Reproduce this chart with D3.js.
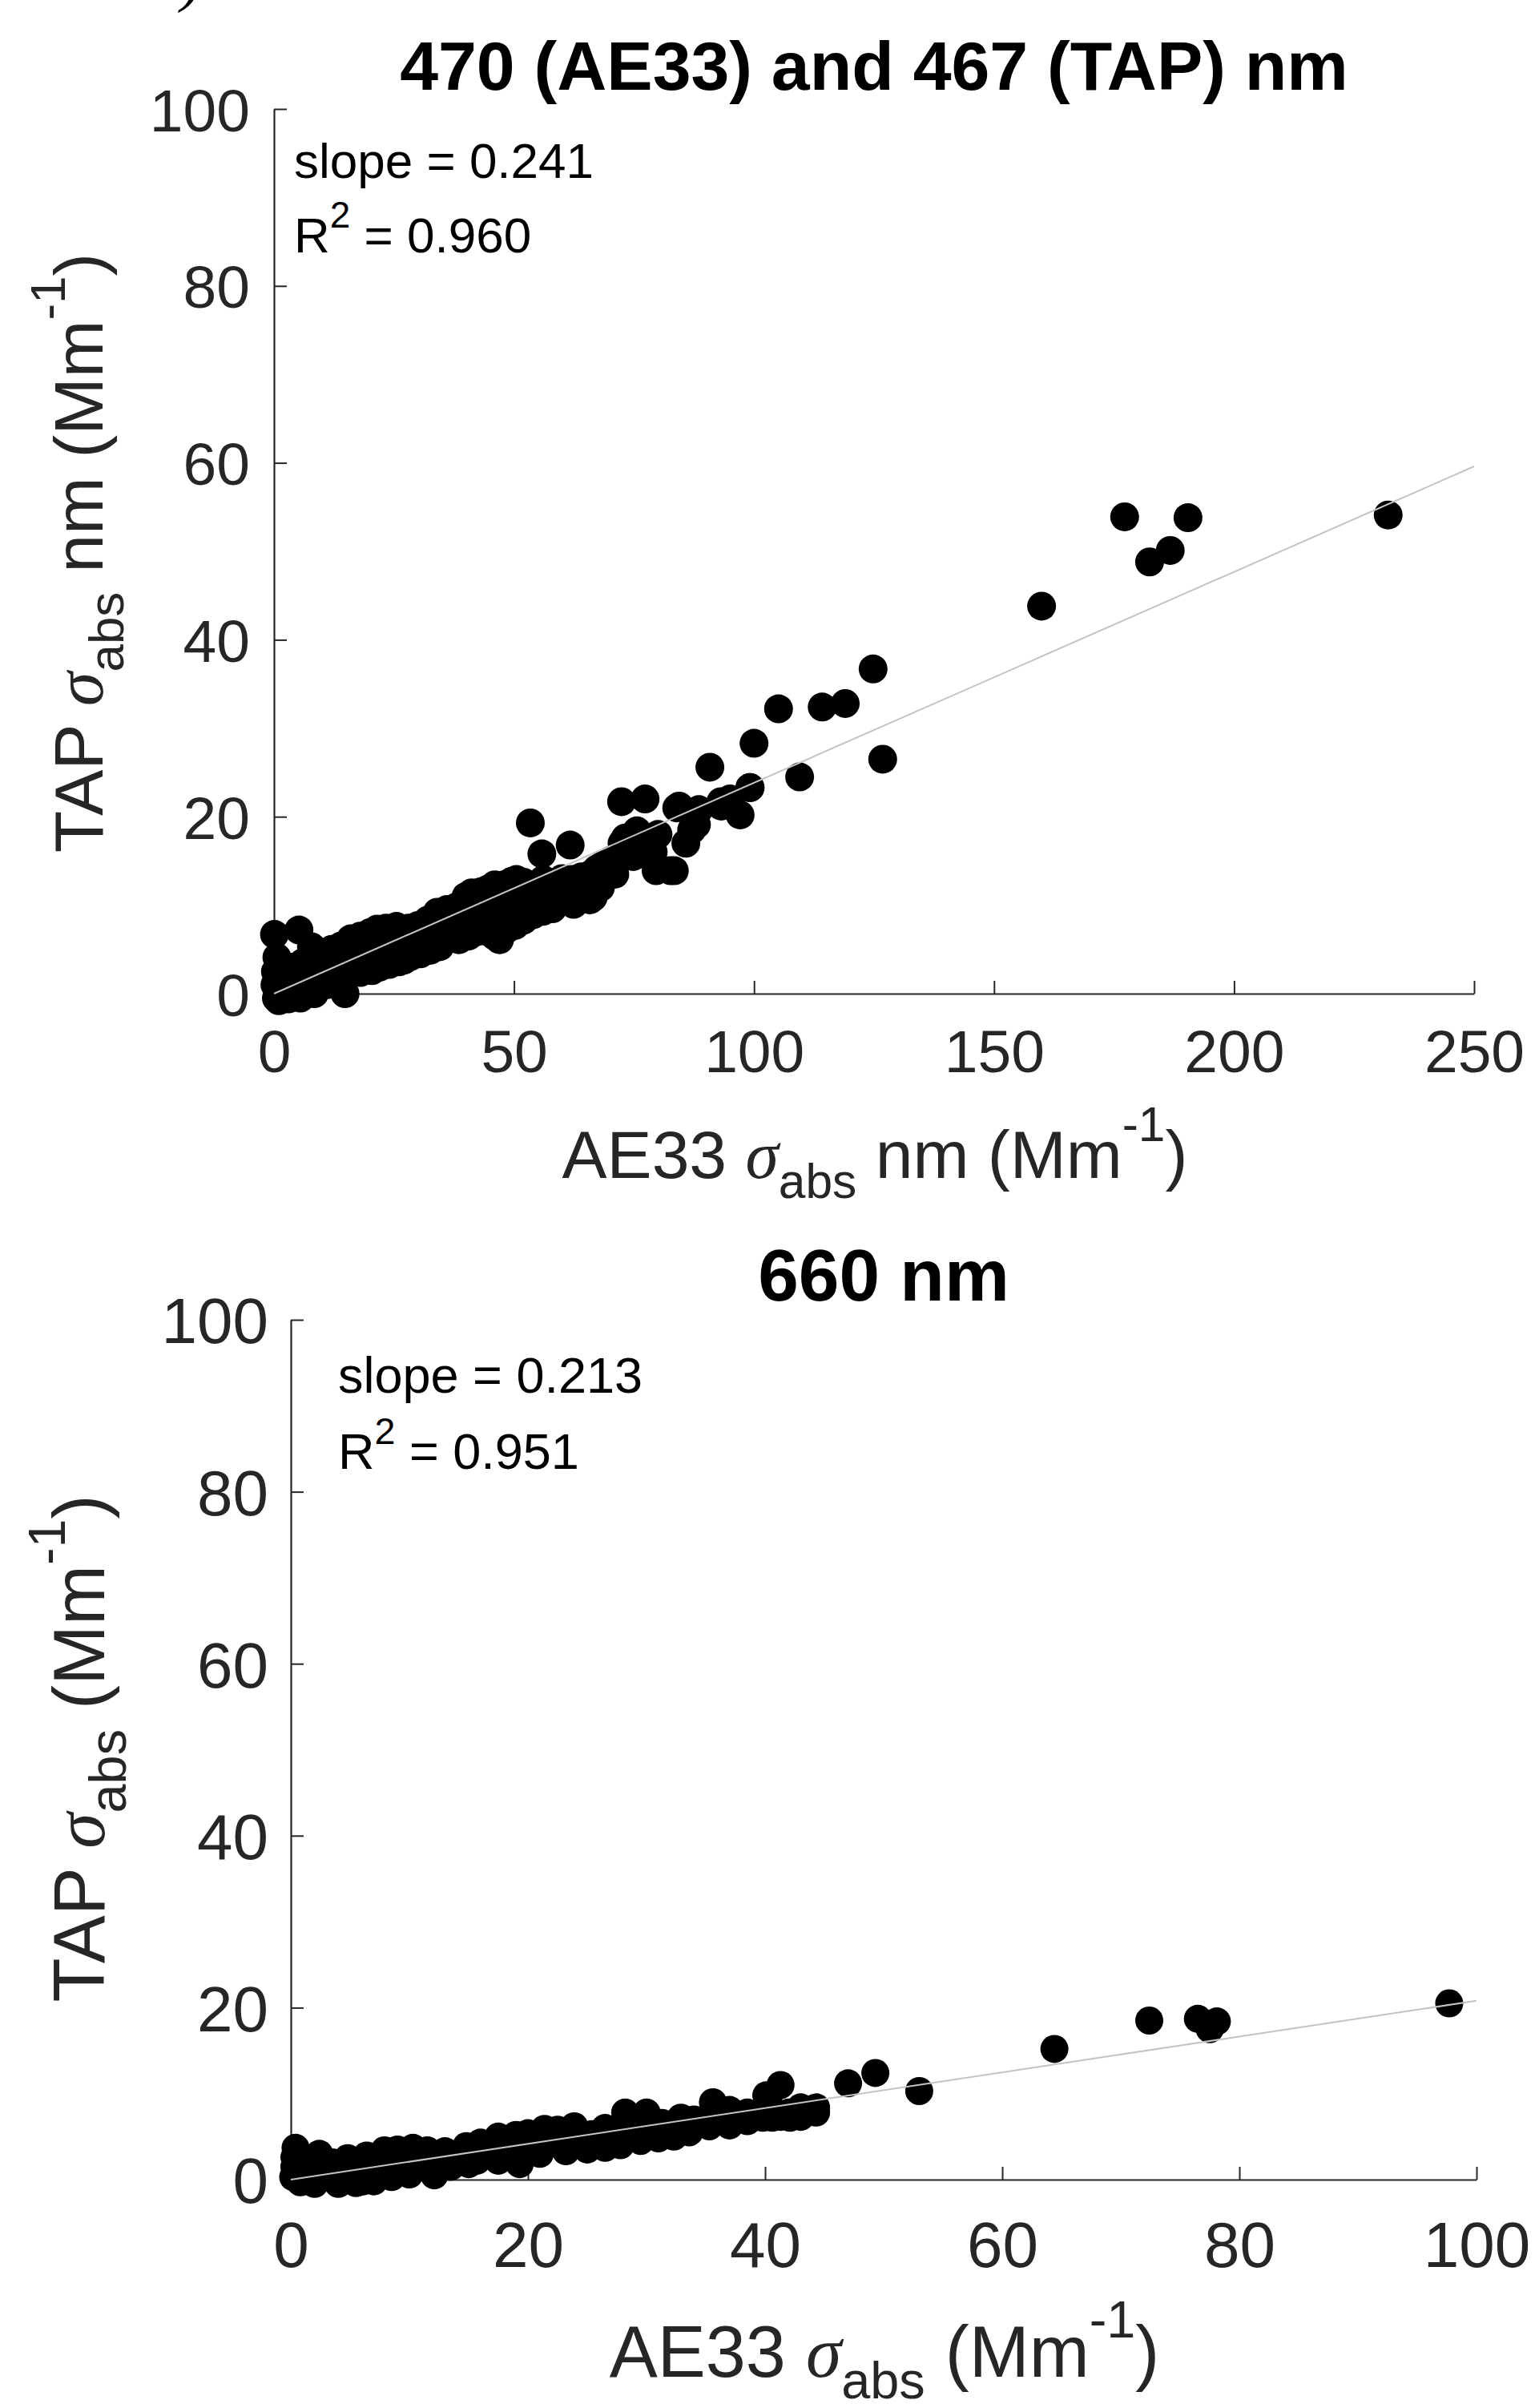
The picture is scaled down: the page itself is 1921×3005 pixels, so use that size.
<!DOCTYPE html>
<html><head><meta charset="utf-8">
<script src="https://cdn.jsdelivr.net/npm/d3@7"></script>
<style>body{margin:0;background:#fff}svg{display:block}</style>
</head><body>
<script>
// ---------------- DATA ----------------
const topTitle = "470 (AE33) and 467 (TAP) nm";
const bottomTitle = "660 nm";
const topXTicks = [0, 50, 100, 150, 200, 250];
const topYTicks = [0, 20, 40, 60, 80, 100];
const bottomXTicks = [0, 20, 40, 60, 80, 100];
const bottomYTicks = [0, 20, 40, 60, 80, 100];
const topStats = ["0.241", "0.960"];
const bottomStats = ["0.213", "0.951"];
const topFitX = [0, 250], topFitY = [0, 59.6];
const bottomFitX = [0, 100], bottomFitY = [0, 20.8];

// [AE33, TAP] pairs
const topPoints = [
[0.1,6.7],[0.6,4.1],[0.3,2.5],[0.2,1.0],[0.5,-0.5],[1.0,-0.8],[1.2,0.8],[1.5,2.0],[2.0,0.3],[2.5,2.3],
[3.0,-0.6],[3.0,1.2],[3.5,3.0],[4.0,-0.4],[4.5,1.5],[5.2,7.2],[5.5,2.7],[5.5,-0.5],[6.0,3.5],[6.5,0.5],
[7.0,1.8],[7.8,5.3],[8.4,0.0],[8.5,3.9],[9.0,2.0],[9.5,0.8],[10.0,4.4],[10.5,2.6],[11.0,1.0],[11.5,3.6],
[12.0,5.0],[12.9,2.1],[13.5,3.5],[14.0,5.4],[14.8,0.0],[15.0,2.0],[15.5,4.0],[16.0,6.2],[16.5,2.5],[17.0,4.5],
[18.0,6.5],[18.0,2.4],[19.0,4.6],[20.0,6.9],[20.4,2.6],[21.0,4.8],[21.5,7.3],[22.0,3.0],[23.0,5.4],[23.3,7.4],
[24.0,3.3],[25.0,5.8],[25.5,7.6],[26.0,3.6],[27.1,3.8],[27.0,6.0],[28.0,7.4],[28.5,4.2],[29.0,6.2],[30.0,7.7],
[30.5,4.5],[31.0,6.5],[32.0,8.3],[32.5,4.9],[33.0,6.8],[34.0,9.2],[34.5,5.3],[35.0,7.4],[36.0,9.5],[36.4,6.2],
[37.0,7.8],[38.0,9.8],[38.6,9.5],[38.5,6.1],[39.5,8.2],[40.0,11.0],[40.5,6.5],[41.2,11.4],[41.5,8.8],[42.3,7.0],
[43.0,11.5],[43.5,9.2],[44.5,7.0],[44.5,11.8],[45.5,9.6],[46.0,12.3],[46.0,6.5],[47.0,6.1],[47.9,12.3],[48.0,9.8],
[48.5,7.3],[49.5,12.7],[50.2,7.7],[50.5,12.9],[50.5,10.2],[52.0,8.3],[52.0,12.6],[52.5,10.6],[53.4,19.3],[53.9,8.9],
[54.0,12.0],[54.5,11.0],[55.8,15.8],[56.1,12.9],[56.0,9.3],[57.0,11.2],[58.0,12.5],[58.0,9.6],[59.1,10.3],[60.0,13.0],
[60.5,11.5],[61.7,16.8],[62.1,12.9],[62.4,10.1],[63.5,11.8],[64.0,13.2],[65.8,10.6],[66.5,10.9],[66.0,13.5],[67.3,14.1],
[68.0,12.0],[68.5,14.5],[70.3,15.1],[71.0,13.5],[72.4,21.7],[72.5,17.0],[73.2,17.6],[74.5,16.5],[74.8,15.5],[75.6,18.4],
[76.7,15.8],[77.3,22.0],[77.5,17.5],[79.6,13.9],[79.0,16.0],[80.0,18.0],[82.6,13.9],[83.4,13.9],[83.9,21.0],[84.4,21.2],
[85.8,17.0],[87.0,18.5],[88.5,20.8],[88.0,19.1],[90.8,25.6],[93.2,21.2],[93.1,21.7],[95.0,22.0],[97.1,20.2],[99.1,23.3],
[99.2,23.3],[100.0,28.3],[105.1,32.2],[109.5,24.5],[114.2,32.4],[119.0,32.8],[124.8,36.7],[126.8,26.5],[159.9,43.8],[177.2,53.9],
[182.4,48.8],[186.7,50.1],[190.4,53.8],[232.1,54.1]
];

const bottomPoints = [
[0.2,0.3],[0.3,1.5],[0.3,2.6],[0.4,3.7],[0.8,-0.3],[1.2,1.0],[1.5,2.4],[2.0,-0.5],[2.4,3.0],[2.5,1.2],
[3.2,0.2],[3.5,2.0],[4.0,-0.5],[4.8,2.5],[4.8,1.0],[5.5,-0.4],[6.1,-0.2],[6.4,2.8],[6.5,1.3],[7.0,-0.2],
[7.9,3.4],[8.0,1.5],[8.5,0.3],[9.0,3.5],[9.5,2.0],[10.0,0.6],[10.3,3.7],[11.0,2.2],[11.5,3.4],[12.1,0.5],
[12.5,2.0],[13.0,3.3],[13.5,1.5],[14.0,2.5],[14.8,3.9],[15.0,1.8],[15.7,2.2],[16.0,4.3],[16.5,3.0],[17.5,5.0],
[17.5,2.2],[18.5,3.6],[19.0,5.2],[19.3,1.8],[20.0,5.4],[20.5,3.5],[21.0,3.0],[21.4,5.9],[22.0,4.5],[22.5,5.8],
[23.2,3.3],[23.9,6.2],[24.0,4.8],[25.0,3.5],[25.4,5.3],[26.0,4.5],[26.5,6.0],[26.5,3.7],[27.8,4.0],[28.2,7.8],
[28.5,5.5],[29.5,4.5],[30.0,7.8],[30.0,6.0],[31.0,4.8],[31.3,6.6],[32.3,5.0],[32.6,6.7],[32.9,7.2],[33.6,5.5],
[34.0,7.0],[35.3,6.2],[35.6,9.0],[36.0,7.5],[37.0,8.1],[37.0,6.3],[38.5,6.8],[38.5,7.8],[39.8,7.2],[40.1,9.8],
[40.3,9.6],[40.6,7.2],[41.3,11.0],[41.3,7.3],[42.0,7.8],[42.1,7.2],[43.0,8.4],[43.0,7.3],[44.1,8.2],[44.3,8.4],
[44.3,7.8],[47.0,11.2],[49.3,12.4],[53.0,10.3],[64.4,15.2],[72.4,18.5],[76.5,18.7],[78.1,18.4],[77.5,17.5],[97.7,20.5]
];

// ---------------- DRAWING ----------------
const W = 1921, H = 3005;
const SANS = "'Liberation Sans', Arial, Helvetica, sans-serif";
const SERIF = "'Liberation Serif', 'Times New Roman', serif";
const AX = "#262626";

const svg = d3.select("body").append("svg").attr("width", W).attr("height", H)
  .attr("viewBox", `0 0 ${W} ${H}`);
svg.append("rect").attr("width", W).attr("height", H).attr("fill", "#fff");

// cut-off panel letter remnant at top
svg.append("text").attr("x", 226).attr("y", -1).attr("font-family", SERIF)
  .attr("font-style", "italic").attr("font-size", 80).attr("fill", "#000").text(")");

function rich(sel, parts, fs) {
  let shift = 0;
  parts.forEach(p => {
    const t = sel.append("tspan").text(p.t);
    let target = 0, size = fs;
    if (p.k === "sub") { target = 0.30 * fs; size = 0.72 * fs; }
    if (p.k === "sup") { target = -0.55 * fs; size = 0.72 * fs; }
    t.attr("font-size", size).attr("dy", target - shift);
    shift = target;
    if (p.k === "sig") t.attr("font-family", SERIF).attr("font-style", "italic");
  });
}

function panel(cfg) {
  const g = svg.append("g");
  const x = d3.scaleLinear().domain([0, cfg.xmax]).range([cfg.x0, cfg.x1]);
  const y = d3.scaleLinear().domain([0, 100]).range([cfg.y0, cfg.y1]);

  const ax = g.append("g").attr("transform", `translate(0,${cfg.y0})`)
    .call(d3.axisBottom(x).tickValues(cfg.xt).tickFormat(d3.format("d"))
      .tickSizeInner(-16).tickSizeOuter(0).tickPadding(cfg.xpad));
  const ay = g.append("g").attr("transform", `translate(${cfg.x0},0)`)
    .call(d3.axisLeft(y).tickValues(cfg.yt).tickFormat(d3.format("d"))
      .tickSizeInner(-16).tickSizeOuter(0).tickPadding(cfg.ypad));
  [ax, ay].forEach(a => {
    a.attr("font-family", SANS).attr("font-size", cfg.tfs);
    a.select(".domain").attr("stroke", AX).attr("stroke-width", 2.2);
    a.selectAll(".tick line").attr("stroke", AX).attr("stroke-width", 2);
    a.selectAll(".tick text").attr("fill", AX);
  });
  ay.selectAll(".tick text").attr("dy", "0.36em");
  ax.selectAll(".tick text").attr("dy", "0.716em");

  g.append("g").selectAll("circle").data(cfg.pts).join("circle")
    .attr("cx", d => x(d[0])).attr("cy", d => y(d[1])).attr("r", cfg.r).attr("fill", "#000");

  const line = d3.line().x(d => x(d[0])).y(d => y(d[1]));
  g.append("path").datum(cfg.fx.map((v, i) => [v, cfg.fy[i]]))
    .attr("d", line).attr("stroke", "#c4c4c4").attr("stroke-width", 2).attr("fill", "none");

  // title
  g.append("text").attr("x", (cfg.x0 + cfg.x1) / 2).attr("y", cfg.titleY)
    .attr("text-anchor", "middle").attr("font-family", SANS).attr("font-weight", "bold")
    .attr("font-size", cfg.titleFs).attr("fill", "#000").text(cfg.title);

  // stats
  g.append("text").attr("x", cfg.sx).attr("y", cfg.sy1).attr("font-family", SANS)
    .attr("font-size", cfg.sfs).attr("fill", "#000").text("slope = " + cfg.stats[0]);
  const r2 = g.append("text").attr("x", cfg.sx).attr("y", cfg.sy2).attr("font-family", SANS)
    .attr("font-size", cfg.sfs).attr("fill", "#000");
  r2.append("tspan").text("R");
  r2.append("tspan").text("2").attr("font-size", cfg.sfs * 0.74).attr("dy", -0.5 * cfg.sfs);
  r2.append("tspan").text(" = " + cfg.stats[1]).attr("dy", 0.5 * cfg.sfs);

  // x label
  const xl = g.append("text").attr("x", cfg.xlX).attr("y", cfg.xlY).attr("text-anchor", "middle")
    .attr("font-family", SANS).attr("font-size", cfg.lfs).attr("fill", AX);
  rich(xl, cfg.xlab, cfg.lfs);

  // y label
  const yl = g.append("text").attr("transform", `translate(${cfg.ylX},${cfg.ylY}) rotate(-90)`)
    .attr("text-anchor", "middle").attr("font-family", SANS).attr("font-size", cfg.ylfs).attr("fill", AX);
  rich(yl, cfg.ylab, cfg.ylfs);
}

panel({
  xmax: 250, x0: 342, x1: 1840, y0: 1240, y1: 136, xt: topXTicks, yt: topYTicks,
  xpad: 44, ypad: 30, tfs: 75, pts: topPoints, r: 18, fx: topFitX, fy: topFitY,
  title: topTitle, titleY: 112, titleFs: 86,
  stats: topStats, sx: 367, sy1: 222, sy2: 315, sfs: 62,
  xlX: 1092, xlY: 1470, lfs: 84,
  xlab: [{t: "AE33 "}, {t: "σ", k: "sig"}, {t: "abs", k: "sub"}, {t: " nm (Mm"}, {t: "-1", k: "sup"}, {t: ")"}],
  ylX: 128, ylY: 690, ylfs: 86,
  ylab: [{t: "TAP "}, {t: "σ", k: "sig"}, {t: "abs", k: "sub"}, {t: " nm (Mm"}, {t: "-1", k: "sup"}, {t: ")"}]
});

panel({
  xmax: 100, x0: 363, x1: 1843, y0: 2720, y1: 1647, xt: bottomXTicks, yt: bottomYTicks,
  xpad: 52, ypad: 28, tfs: 80, pts: bottomPoints, r: 17.5, fx: bottomFitX, fy: bottomFitY,
  title: bottomTitle, titleY: 1623, titleFs: 91,
  stats: bottomStats, sx: 422, sy1: 1738, sy2: 1833, sfs: 63,
  xlX: 1104, xlY: 2966, lfs: 90,
  xlab: [{t: "AE33 "}, {t: "σ", k: "sig"}, {t: "abs", k: "sub"}, {t: " (Mm"}, {t: "-1", k: "sup"}, {t: ")"}],
  ylX: 130, ylY: 2182, ylfs: 90,
  ylab: [{t: "TAP "}, {t: "σ", k: "sig"}, {t: "abs", k: "sub"}, {t: " (Mm"}, {t: "-1", k: "sup"}, {t: ")"}]
});
</script>
</body></html>
